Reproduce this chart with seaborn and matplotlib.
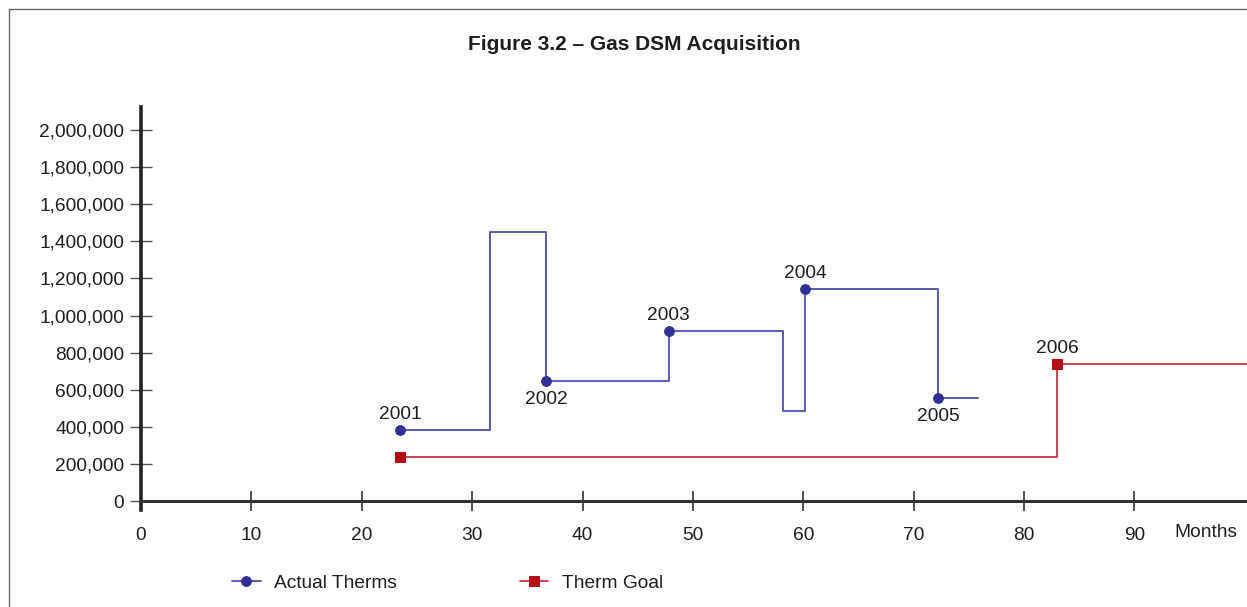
import matplotlib
matplotlib.use("Agg")
import matplotlib.pyplot as plt
import seaborn as sns
import pandas as pd
from matplotlib.lines import Line2D
from matplotlib.ticker import FuncFormatter

# Data (months since start, therms)
actual_months = [23.5, 31.6, 36.7, 47.8, 58.2, 60.2, 72.2, 75.8]
actual_therms = [383000, 1450000, 647000, 916000, 485000, 1143000, 555000, 555000]
actual_year_points = [0, 2, 3, 5, 6]
actual_years = ["2001", "2002", "2003", "2004", "2005"]
actual_label_side = ["above", "below", "above", "above", "below"]

goal_months = [23.5, 83.0, 100.2]
goal_therms = [237000, 739000, 739000]
goal_year_points = [1]
goal_years = ["2006"]

x_ticks = [0, 10, 20, 30, 40, 50, 60, 70, 80, 90]
y_ticks = [0, 200000, 400000, 600000, 800000, 1000000, 1200000,
           1400000, 1600000, 1800000, 2000000]

BLUE = "#2e3192"
BLUE_LINE = "#4a4fa8"
RED = "#b30d17"
RED_LINE = "#c8323c"
TXT = "#1e1e1e"
FS = 13.8

sns.set_style("white")
plt.rcParams["font.family"] = ["Liberation Sans", "DejaVu Sans"]

fig = plt.figure(figsize=(12.47, 6.07), dpi=100)
ax = fig.add_axes([141 / 1247, 1 - 510 / 607, 1 - 141 / 1247, (510 - 107) / 607])

actual_df = pd.DataFrame({"month": actual_months, "therms": actual_therms})
goal_df = pd.DataFrame({"month": goal_months, "therms": goal_therms})

sns.lineplot(data=actual_df, x="month", y="therms", ax=ax, estimator=None,
             drawstyle="steps-post", color=BLUE_LINE, linewidth=1.3,
             marker="o", markersize=7, markerfacecolor=BLUE,
             markeredgecolor=BLUE, markevery=actual_year_points,
             label="Actual Therms")
sns.lineplot(data=goal_df, x="month", y="therms", ax=ax, estimator=None,
             drawstyle="steps-post", color=RED_LINE, linewidth=1.3,
             marker="s", markersize=6.5, markerfacecolor=RED,
             markeredgecolor=RED, markevery=[0, 1],
             label="Therm Goal")

# year labels next to markers
for idx, yr, side in zip(actual_year_points, actual_years, actual_label_side):
    dy = 5 if side == "above" else -7
    va = "bottom" if side == "above" else "top"
    ax.annotate(yr, (actual_months[idx], actual_therms[idx]), xytext=(0, dy),
                textcoords="offset points", ha="center", va=va,
                fontsize=FS, color=TXT)
for idx, yr in zip(goal_year_points, goal_years):
    ax.annotate(yr, (goal_months[idx], goal_therms[idx]), xytext=(0, 5),
                textcoords="offset points", ha="center", va="bottom",
                fontsize=FS, color=TXT)

ax.set_xlim(0, 100.2)
ax.set_ylim(-48500, 2124000)
ax.set_xticks(x_ticks)
ax.set_yticks(y_ticks)
ax.yaxis.set_major_formatter(FuncFormatter(lambda v, p: f"{int(v):,}"))
ax.set_xlabel("")
ax.set_ylabel("")

for s in ["top", "right"]:
    ax.spines[s].set_visible(False)
ax.spines["bottom"].set_position(("data", 0))
ax.spines["left"].set_linewidth(2.6)
ax.spines["bottom"].set_linewidth(2.2)
ax.spines["left"].set_color("#222222")
ax.spines["bottom"].set_color("#333333")

ax.tick_params(axis="y", direction="inout", length=16, width=1, color="#555555",
               labelsize=FS, labelcolor=TXT, pad=4, left=True)
ax.tick_params(axis="x", direction="inout", length=14, width=1.2, color="#333333",
               labelsize=FS, labelcolor=TXT, pad=12, bottom=True)

ax.annotate("Months", (96.5, 0), xytext=(0, -22.5), textcoords="offset points",
            ha="center", va="center", fontsize=FS, color=TXT)

fig.text(634 / 1247, 1 - 45 / 607, "Figure 3.2 – Gas DSM Acquisition",
         ha="center", va="center", fontsize=15, fontweight="bold", color=TXT)

leg = ax.legend(loc="center left", bbox_to_anchor=(232 / 1247, 1 - 583 / 607),
                bbox_transform=fig.transFigure, ncol=2, frameon=False,
                fontsize=FS, handlelength=1.5, handletextpad=0.7,
                columnspacing=6.4, borderpad=0, borderaxespad=0)
for t in leg.get_texts():
    t.set_color(TXT)

# page frame
fig.add_artist(Line2D([9 / 1247, 9 / 1247], [0, 1 - 9 / 607], color="#666666",
                      linewidth=1, transform=fig.transFigure))
fig.add_artist(Line2D([9 / 1247, 1], [1 - 9 / 607, 1 - 9 / 607], color="#666666",
                      linewidth=1, transform=fig.transFigure))

fig.savefig("out.png", dpi=100)
